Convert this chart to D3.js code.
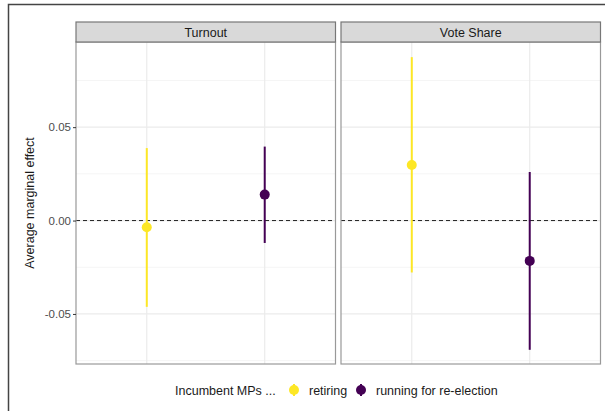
<!DOCTYPE html>
<html>
<head>
<meta charset="utf-8">
<script src="https://cdn.jsdelivr.net/npm/d3@7"></script>
<style>
  body { margin: 0; background: #fff; }
  text { font-family: "Liberation Sans", Arial, sans-serif; }
</style>
</head>
<body>
<svg id="chart"></svg>
<script>
var width = 605,
    height = 411;

// data
var panels = ['Turnout', 'Vote Share'];
var groups = ['retiring', 'running for re-election'];
var estimates = [[-0.0036, 0.0139], [0.0297, -0.0216]];
var lower = [[-0.0462, -0.012], [-0.0278, -0.0692]];
var upper = [[0.0388, 0.0396], [0.0875, 0.026]];
var yTicks = [-0.05, 0, 0.05];
var yMinor = [-0.075, -0.025, 0.025, 0.075];

var colors = ['#FDE725', '#440154'];

var panelTop = 42, panelBottom = 364, stripTop = 22;
var panelX = [76, 341], panelW = 259.5;

var svg = d3.select('#chart')
  .attr('width', width)
  .attr('height', height);

// outer frame
svg.append('rect')
  .attr('x', 8.5).attr('y', 4.5)
  .attr('width', 620).attr('height', 420)
  .attr('fill', 'none')
  .attr('stroke', '#444')
  .attr('stroke-width', 1.5);

var y = d3.scaleLinear()
  .domain([-0.0768, 0.0956])
  .range([panelBottom, panelTop]);

panels.forEach(function(name, p) {
  var x = d3.scalePoint()
    .domain(groups)
    .range([panelX[p], panelX[p] + panelW])
    .padding(0.6);

  var g = svg.append('g');

  // minor grid
  g.selectAll('.minor')
    .data(yMinor)
    .join('line')
    .attr('x1', panelX[p]).attr('x2', panelX[p] + panelW)
    .attr('y1', function(d) { return y(d); })
    .attr('y2', function(d) { return y(d); })
    .attr('stroke', '#f5f5f5')
    .attr('stroke-width', 1);

  // major grid
  g.selectAll('.major')
    .data(yTicks)
    .join('line')
    .attr('x1', panelX[p]).attr('x2', panelX[p] + panelW)
    .attr('y1', function(d) { return y(d); })
    .attr('y2', function(d) { return y(d); })
    .attr('stroke', '#ebebeb')
    .attr('stroke-width', 1.2);

  g.selectAll('.vgrid')
    .data(groups)
    .join('line')
    .attr('x1', function(d) { return x(d); })
    .attr('x2', function(d) { return x(d); })
    .attr('y1', panelTop).attr('y2', panelBottom)
    .attr('stroke', '#ebebeb')
    .attr('stroke-width', 1.2);

  // zero line
  g.append('line')
    .attr('x1', panelX[p]).attr('x2', panelX[p] + panelW)
    .attr('y1', y(0)).attr('y2', y(0))
    .attr('stroke', '#222')
    .attr('stroke-width', 1)
    .attr('stroke-dasharray', '4,3');

  // point ranges
  groups.forEach(function(grp, i) {
    g.append('line')
      .attr('x1', x(grp)).attr('x2', x(grp))
      .attr('y1', y(lower[p][i])).attr('y2', y(upper[p][i]))
      .attr('stroke', colors[i])
      .attr('stroke-width', 2);
    g.append('circle')
      .attr('cx', x(grp)).attr('cy', y(estimates[p][i]))
      .attr('r', 5)
      .attr('fill', colors[i]);
  });

  // panel border
  g.append('rect')
    .attr('x', panelX[p]).attr('y', panelTop)
    .attr('width', panelW).attr('height', panelBottom - panelTop)
    .attr('fill', 'none')
    .attr('stroke', '#999')
    .attr('stroke-width', 1.2);

  // strip
  g.append('rect')
    .attr('x', panelX[p]).attr('y', stripTop)
    .attr('width', panelW).attr('height', panelTop - stripTop)
    .attr('fill', '#d9d9d9')
    .attr('stroke', '#777')
    .attr('stroke-width', 1.2);
  g.append('text')
    .attr('x', panelX[p] + panelW / 2)
    .attr('y', (stripTop + panelTop) / 2 + 4.5)
    .attr('text-anchor', 'middle')
    .attr('font-size', 12.5)
    .attr('fill', '#1a1a1a')
    .text(name);
});

// y axis (plain hyphen for negatives, like the reference)
var fmt = d3.format('.2f');
var yAxis = d3.axisLeft(y)
  .tickValues(yTicks)
  .tickFormat(function(d) { return fmt(d).replace('\u2212', '-'); })
  .tickSize(3)
  .tickPadding(2);

svg.append('g')
  .attr('transform', 'translate(' + panelX[0] + ',0)')
  .call(yAxis)
  .call(function(g) { g.select('.domain').remove(); })
  .call(function(g) {
    g.selectAll('.tick line').attr('stroke', '#333');
    g.selectAll('.tick text')
      .attr('font-size', 11.5)
      .attr('fill', '#4d4d4d')
      .style('font-family', '"Liberation Sans", Arial, sans-serif');
  });

svg.append('text')
  .attr('transform', 'translate(34,' + ((panelTop + panelBottom) / 2) + ') rotate(-90)')
  .attr('text-anchor', 'middle')
  .attr('font-size', 12.5)
  .attr('fill', '#1a1a1a')
  .text('Average marginal effect');

// legend
var legend = svg.append('g').attr('transform', 'translate(0,390)');
legend.append('text')
  .attr('x', 175).attr('y', 4.5)
  .attr('font-size', 12.5)
  .attr('fill', '#1a1a1a')
  .text('Incumbent MPs ...');

var keyX = [294, 361], labelX = [309, 376];
groups.forEach(function(grp, i) {
  legend.append('line')
    .attr('x1', keyX[i]).attr('x2', keyX[i])
    .attr('y1', -6).attr('y2', 6)
    .attr('stroke', colors[i])
    .attr('stroke-width', 2);
  legend.append('circle')
    .attr('cx', keyX[i]).attr('cy', 0)
    .attr('r', 5)
    .attr('fill', colors[i]);
  legend.append('text')
    .attr('x', labelX[i]).attr('y', 4.5)
    .attr('font-size', 12.5)
    .attr('fill', '#1a1a1a')
    .text(grp);
});
</script>
</body>
</html>
